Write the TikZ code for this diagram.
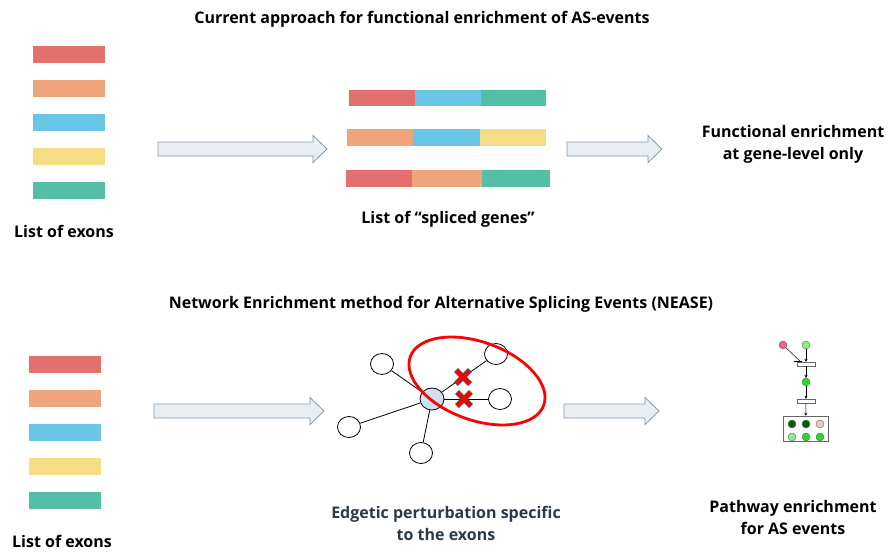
\documentclass[tikz,border=0pt]{standalone}
\usepackage{fontspec}
\setmainfont{Open Sans}
\newfontfamily\headfont{Open Sans Bold}
\usetikzlibrary{arrows.meta,shapes.geometric}

\definecolor{exred}{HTML}{E3706C}
\definecolor{exorange}{HTML}{EFA47C}
\definecolor{exblue}{HTML}{6AC6E6}
\definecolor{exyellow}{HTML}{F5DD86}
\definecolor{exteal}{HTML}{53BFA7}
\definecolor{arrfill}{HTML}{E9EEF2}
\definecolor{arrline}{HTML}{8798A8}
\definecolor{hubfill}{HTML}{CFE0F1}
\definecolor{slate}{HTML}{2D3A45}
\definecolor{pwpink}{HTML}{E8648A}
\definecolor{pwlight}{HTML}{88EE88}
\definecolor{pwbright}{HTML}{22DD22}
\definecolor{pwdark}{HTML}{0B5A0B}
\definecolor{pwrose}{HTML}{F6C4C4}

\tikzset{
  bar/.style={inner sep=0pt, minimum height=17pt, minimum width=72pt},
  bigarrow/.style={draw=arrline, fill=arrfill, line width=0.8pt, line join=miter},
  caption/.style={font=\headfont\fontsize{16}{22}\selectfont, align=center, inner sep=0pt},
  heading/.style={font=\headfont\fontsize{16}{20}\selectfont, inner sep=0pt},
  peer/.style={ellipse, draw, fill=white, line width=0.8pt, minimum width=23pt,
    minimum height=21pt, inner sep=0pt},
  hub/.style={peer, fill=hubfill, minimum width=24pt, minimum height=22pt},
  link/.style={line width=0.8pt},
  pw/.style={circle, draw=black!60, line width=0.4pt, minimum size=8pt, inner sep=0pt},
  pwstep/.style={draw=black!60, fill=white, line width=0.4pt, minimum width=18pt,
    minimum height=4pt, inner sep=0pt},
  pwarrow/.style={-{Stealth[length=3pt,width=3pt]}, line width=0.5pt},
}

% block arrow from x=#2 to x=#3 on the line y=#4, named coordinate #1 at its middle
\newcommand{\blockarrow}[4]{%
  \coordinate (#1) at ({(#2+#3)/2},#4);
  \draw[bigarrow] (#2,#4-7) -- (#3-14,#4-7) -- (#3-14,#4-13.5) -- (#3,#4)
    -- (#3-14,#4+13.5) -- (#3-14,#4+7) -- (#2,#4+7) -- cycle;
}

\newcommand{\cross}[1]{%
  \draw[line width=5.6pt, black!70] ([shift={(-7pt,-7pt)}]#1) -- ([shift={(7pt,7pt)}]#1)
        ([shift={(-7pt,7pt)}]#1) -- ([shift={(7pt,-7pt)}]#1);
  \draw[line width=3.8pt, red] ([shift={(-6.5pt,-6.5pt)}]#1) -- ([shift={(6.5pt,6.5pt)}]#1)
        ([shift={(-6.5pt,6.5pt)}]#1) -- ([shift={(6.5pt,-6.5pt)}]#1);
}

\begin{document}
\begin{tikzpicture}[x=1pt, y=-1pt]
\useasboundingbox (0,0) rectangle (890,552);
\fill[white] (0,0) rectangle (890,552);

% ---------- upper panel: current approach ----------
\node[heading] (t1) at (422,19) {Current approach for functional enrichment of AS-events};

\node[bar, fill=exred]    (a1) at (69,54.5)  {};
\node[bar, fill=exorange] (a2) at (69,88.5)  {};
\node[bar, fill=exblue]   (a3) at (69,122.5) {};
\node[bar, fill=exyellow] (a4) at (69,156)   {};
\node[bar, fill=exteal]   (a5) at (69,190)   {};
\node[caption] (l1) at (64,231) {List of exons};

\blockarrow{ar1}{158}{327}{149}

% spliced genes: three exons per gene
\fill[exred]    (349,90) rectangle (415,106);
\fill[exblue]   (415,90) rectangle (481,106);
\fill[exteal]   (481,90) rectangle (546,106);
\fill[exorange] (347,129) rectangle (413,146);
\fill[exblue]   (413,129) rectangle (480,146);
\fill[exyellow] (480,129) rectangle (546,146);
\fill[exred]    (346,170) rectangle (412,187);
\fill[exorange] (412,170) rectangle (482,187);
\fill[exteal]   (482,170) rectangle (550,187);
\node[caption] (l2) at (448,219) {List of “spliced genes”};

\blockarrow{ar2}{567}{662}{149}
\node[caption] (r1) at (793,144) {Functional enrichment\\at gene-level only};

% ---------- lower panel: NEASE ----------
\node[heading] (t2) at (441,304) {Network Enrichment method for Alternative Splicing Events (NEASE)};

\node[bar, fill=exred]    (b1) at (65,364.5) {};
\node[bar, fill=exorange] (b2) at (65,398.5) {};
\node[bar, fill=exblue]   (b3) at (65,432.5) {};
\node[bar, fill=exyellow] (b4) at (65,466.5) {};
\node[bar, fill=exteal]   (b5) at (65,500.5) {};
\node[caption] (l3) at (62,541) {List of exons};

\blockarrow{ar3}{154}{324}{411}

% interaction network around the exon's protein
\node[hub]  (hub) at (432,399) {};
\node[peer] (n1) at (382,364) {};
\node[peer] (n2) at (496,354) {};
\node[peer] (n3) at (500,399) {};
\node[peer] (n4) at (349,427) {};
\node[peer] (n5) at (421,453) {};
\draw[link] (hub) -- (n1);
\draw[link] (hub) -- (n2);
\draw[link] (hub) -- (n3);
\draw[link] (hub) -- (n4);
\draw[link] (hub) -- (n5);
\coordinate (c1) at (463,377);
\coordinate (c2) at (464,399);
\cross{c1}
\cross{c2}
\draw[red, line width=2.8pt] (477,381) ellipse[x radius=71pt, y radius=39pt, rotate=-20];

\node[caption, text=slate] (r2) at (446,523) {Edgetic perturbation specific\\to the exons};

\blockarrow{ar4}{564}{659}{411}

% small pathway sketch
\node[pw, fill=pwpink]   (p1) at (783,345) {};
\node[pw, fill=pwlight]  (p2) at (806,345) {};
\node[pwstep]            (s1) at (806,364) {};
\node[pw, fill=pwbright] (p3) at (806,382) {};
\node[pwstep]            (s2) at (806,401) {};
\node[draw=black!60, fill=white, line width=0.5pt, minimum width=45pt,
      minimum height=25pt, inner sep=0pt] (box) at (805.5,428.5) {};
\node[pw, fill=pwdark]   (q1) at (792,424) {};
\node[pw, fill=pwdark]   (q2) at (806,424) {};
\node[pw, fill=pwrose]   (q3) at (820,424) {};
\node[pw, fill=pwlight]  (q4) at (792,437) {};
\node[pw, fill=pwbright] (q5) at (806,437) {};
\node[pw, fill=pwbright] (q6) at (820,437) {};
\coordinate (inh) at (800,361);
\draw[line width=0.5pt] (p1) -- (inh);
\draw[line width=0.6pt] ([xshift=-6pt]inh) -- ([xshift=2pt]inh);
\draw[pwarrow] (p2) -- (s1);
\draw[pwarrow] (s1) -- (p3);
\draw[pwarrow] (p3) -- (s2);
\draw[pwarrow] (s2) -- (box);

\node[caption] (r3) at (793,517) {Pathway enrichment\\for AS events};
\end{tikzpicture}
\end{document}
